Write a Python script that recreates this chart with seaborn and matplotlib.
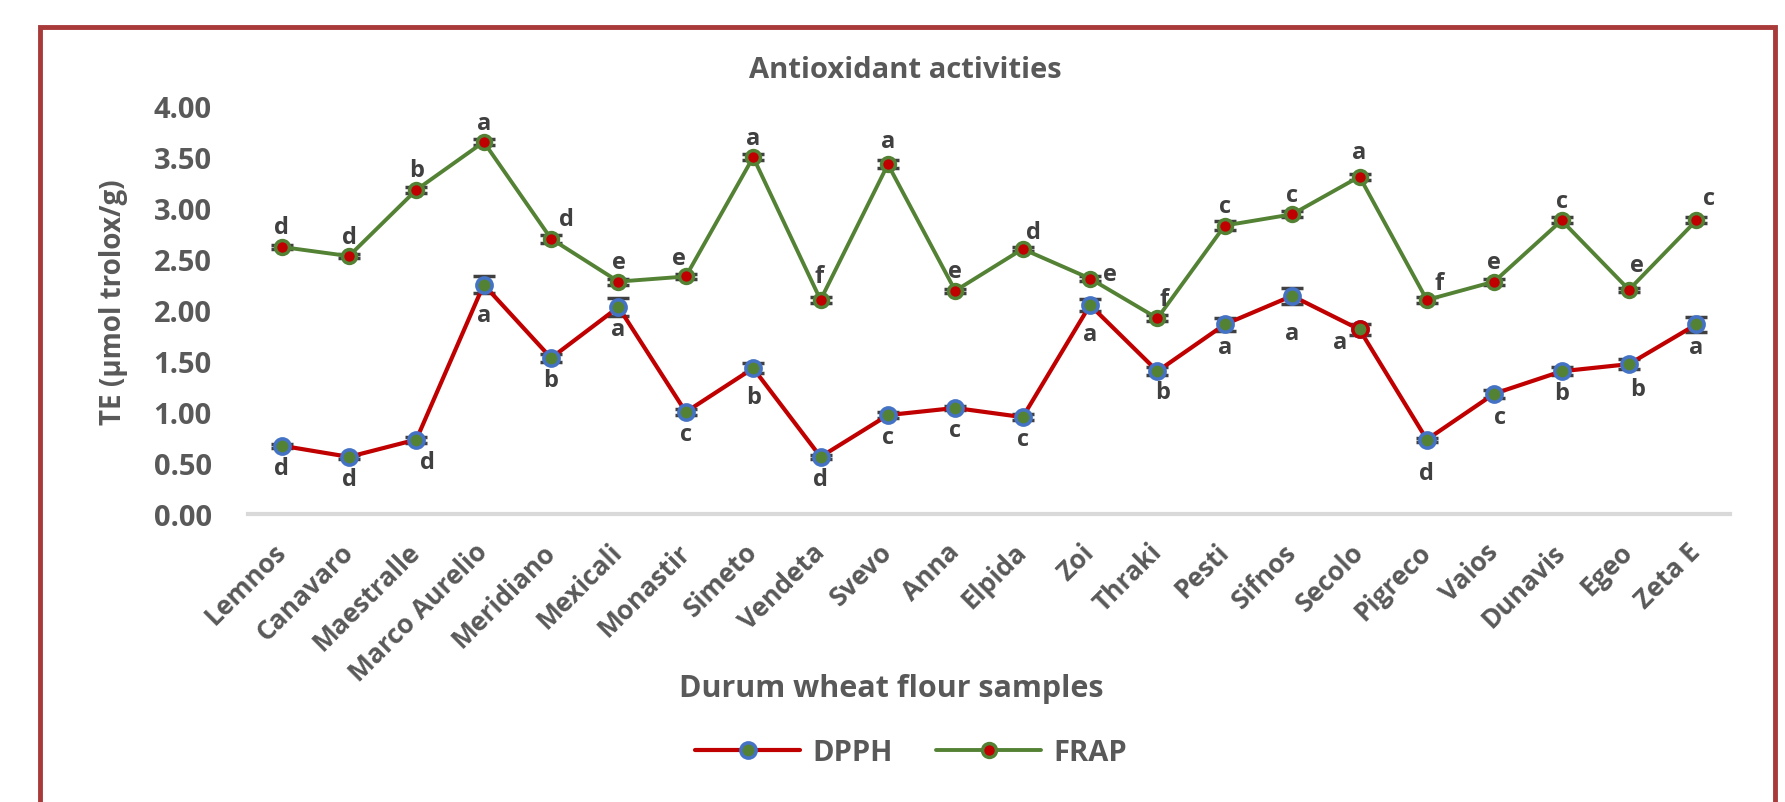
import numpy as np
import pandas as pd
import matplotlib
matplotlib.use("Agg")
import matplotlib.pyplot as plt
import seaborn as sns
from matplotlib.patches import Rectangle

# Data
samples = ["Lemnos", "Canavaro", "Maestralle", "Marco Aurelio", "Meridiano", "Mexicali",
           "Monastir", "Simeto", "Vendeta", "Svevo", "Anna", "Elpida", "Zoi", "Thraki",
           "Pesti", "Sifnos", "Secolo", "Pigreco", "Vaios", "Dunavis", "Egeo", "Zeta E"]

dpph = [0.67, 0.56, 0.73, 2.25, 1.53, 2.03, 1.00, 1.43, 0.56, 0.97, 1.04,
        0.95, 2.05, 1.40, 1.86, 2.14, 1.81, 0.73, 1.18, 1.40, 1.47, 1.86]
dpph_err = [0.02, 0.02, 0.03, 0.08, 0.04, 0.09, 0.03, 0.05, 0.02, 0.03, 0.02,
            0.03, 0.06, 0.04, 0.06, 0.08, 0.05, 0.02, 0.04, 0.04, 0.05, 0.07]
dpph_letters = ["d", "d", "d", "a", "b", "a", "c", "b", "d", "c", "c",
                "c", "a", "b", "a", "a", "a", "d", "c", "b", "b", "a"]

frap = [2.62, 2.53, 3.18, 3.65, 2.70, 2.28, 2.33, 3.50, 2.10, 3.43, 2.19,
        2.60, 2.31, 1.92, 2.83, 2.94, 3.31, 2.10, 2.28, 2.88, 2.20, 2.88]
frap_err = [0.02, 0.02, 0.03, 0.03, 0.04, 0.03, 0.02, 0.03, 0.03, 0.04, 0.02,
            0.02, 0.02, 0.03, 0.04, 0.03, 0.03, 0.03, 0.03, 0.03, 0.02, 0.03]
frap_letters = ["d", "d", "b", "a", "d", "e", "e", "a", "f", "a", "e",
                "d", "e", "f", "c", "c", "a", "f", "e", "c", "e", "c"]

# label nudges (points) where the letter is not straight above/below
dpph_nudge = {"Marco Aurelio": (0, -22), "Simeto": (0, -21), "Zoi": (0, -21),
              "Sifnos": (0, -27), "Secolo": (-14, -9), "Pigreco": (0, -24),
              "Maestralle": (8, -16), "Egeo": (6, -18), "Vaios": (4, -17),
              "Thraki": (4, -15)}
frap_nudge = {"Meridiano": (11, 14), "Zoi": (14, 3), "Elpida": (8, 12),
              "Pigreco": (9, 12), "Zeta E": (9, 16), "Thraki": (5, 14),
              "Egeo": (6, 18), "Secolo": (0, 18), "Svevo": (0, 17), "Vendeta": (-1, 17),
              "Monastir": (-5, 13)}

red = "#C00000"
green = "#548235"
blue = "#4472C4"
grey = "#595959"

sns.set_theme(style="white")
plt.rcParams["font.family"] = ["Open Sans", "DejaVu Sans"]
plt.rcParams["font.weight"] = "bold"

fig = plt.figure(figsize=(17.85, 8.03), dpi=100)
ax = fig.add_axes([0.1389, 0.3587, 0.8303, 0.5077])

df = pd.DataFrame({"sample": samples, "DPPH": dpph, "FRAP": frap})

# error bars first, markers on top
ax.errorbar(samples, dpph, yerr=dpph_err, fmt="none", ecolor="#404040",
            elinewidth=1.5, capsize=8, capthick=2.5, zorder=2.5)
ax.errorbar(samples, frap, yerr=frap_err, fmt="none", ecolor="#404040",
            elinewidth=1.5, capsize=8, capthick=2.5, zorder=2.5)

sns.lineplot(data=df, x="sample", y="DPPH", ax=ax, sort=False, color=red, lw=3,
             marker="o", markersize=11, markerfacecolor=green, markeredgecolor=blue,
             markeredgewidth=2.5, zorder=3, label="DPPH")
sns.lineplot(data=df, x="sample", y="FRAP", ax=ax, sort=False, color=green, lw=2.8,
             marker="o", markersize=10, markerfacecolor=red, markeredgecolor=green,
             markeredgewidth=2.5, zorder=3, label="FRAP")

# Secolo DPPH marker has a red ring in the original
i = samples.index("Secolo")
ax.plot([samples[i]], [dpph[i]], marker="o", markersize=11, markerfacecolor=green,
        markeredgecolor=red, markeredgewidth=2.5, zorder=3.5, linestyle="none")

for s, v, t in zip(samples, dpph, dpph_letters):
    dx, dy = dpph_nudge.get(s, (0, -16))
    ax.annotate(t, (s, v), xytext=(dx, dy), textcoords="offset points",
                ha="center", va="center", fontsize=17, color="#404040", fontweight="bold")
for s, v, t in zip(samples, frap, frap_letters):
    dx, dy = frap_nudge.get(s, (0, 14))
    ax.annotate(t, (s, v), xytext=(dx, dy), textcoords="offset points",
                ha="center", va="center", fontsize=17, color="#404040", fontweight="bold")

ax.set_xlim(-0.5, len(samples) - 0.5)
ax.set_ylim(0, 4)
ax.set_yticks(np.arange(0, 4.01, 0.5))
ax.set_yticklabels([f"{t:.2f}" for t in np.arange(0, 4.01, 0.5)], fontsize=21,
                   color=grey, fontweight="bold")
ax.set_xticks(range(len(samples)))
ax.set_xticklabels(samples, rotation=45, ha="right", va="center", rotation_mode="anchor",
                   fontsize=19, color=grey, fontweight="bold")
ax.tick_params(axis="y", length=0, pad=26)
ax.tick_params(axis="x", length=0, pad=24)
ax.set_xlabel("")
ax.set_ylabel("")
for side in ["top", "right", "left"]:
    ax.spines[side].set_visible(False)
ax.spines["bottom"].set_color("#D9D9D9")
ax.spines["bottom"].set_linewidth(3)
ax.grid(False)

handles, labels = ax.get_legend_handles_labels()
if ax.get_legend() is not None:
    ax.get_legend().remove()
fig.legend(handles[:2], labels[:2], loc="center", bbox_to_anchor=(911 / 1785, 49 / 803),
           ncol=2, frameon=False, fontsize=21, labelcolor=grey, handlelength=3.6,
           handletextpad=0.4, columnspacing=1.5)

fig.text(905 / 1785, 1 - 71 / 803, "Antioxidant activities", ha="center", va="center",
         fontsize=21, color=grey, fontweight="bold")
fig.text(891 / 1785, 1 - 689 / 803, "Durum wheat flour samples", ha="center", va="center",
         fontsize=22, color=grey, fontweight="bold")
fig.text(114 / 1785, 1 - 302 / 803, "TE (µmol trolox/g)", ha="center", va="center",
         rotation=90, fontsize=20, color=grey, fontweight="bold")

# dark red frame around the chart (bottom edge runs off the picture)
fig.add_artist(Rectangle((40 / 1785, -0.05), (1775 - 40) / 1785, 1.05 - 28 / 803,
                         transform=fig.transFigure, fill=False, edgecolor="#A83A3A",
                         linewidth=3.5, clip_on=False))

fig.savefig("out.png", dpi=100, facecolor="white")
